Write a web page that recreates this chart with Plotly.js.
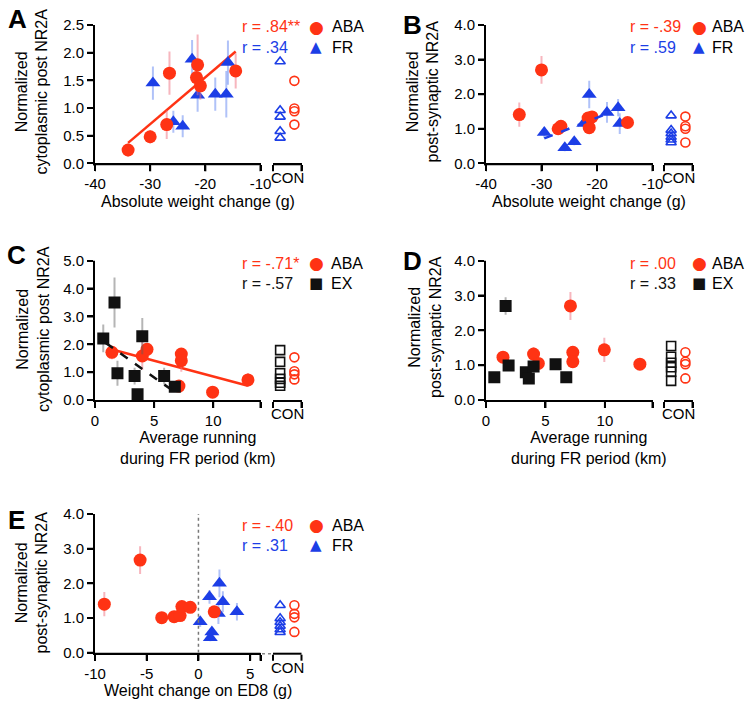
<!DOCTYPE html>
<html><head><meta charset="utf-8">
<script src="https://cdn.plot.ly/plotly-3.0.1.min.js"></script>
<style>html,body{margin:0;padding:0;background:#fff}#chart{width:750px;height:704px}</style>
</head><body><div id="chart"></div>
<script>
// ---------- DATA ----------
// Panels A & B: absolute weight change (g)
const abaWeightChange = [-34, -30, -27, -26.5, -21.6, -21.4, -20.9, -14.5];
const frWeightChange  = [-29.5, -25.8, -24.1, -22.4, -21.4, -18.2, -16.2, -15.9];
// A: cytoplasmic post NR2A
const abaCytoA     = [0.24, 0.48, 0.70, 1.63, 1.55, 1.78, 1.40, 1.67];
const abaCytoA_err = [0.12, 0.12, 0.26, 0.39, 0.25, 0.55, 0.25, 0.32];
const frCytoA      = [1.45, 0.75, 0.67, 1.88, 1.23, 1.25, 1.25, 1.82];
const frCytoA_err  = [0.30, 0.20, 0.20, 0.35, 0.30, 0.30, 0.42, 0.40];
const conA_FR  = [1.84, 0.96, 0.84, 0.58, 0.46];
const conA_ABA = [1.49, 0.99, 0.94, 0.70];
const fitA_x = [-34, -14.5];
const fitA_y = [0.37, 2.02];
// B: post-synaptic NR2A
const abaPostB     = [1.41, 2.70, 1.00, 1.07, 1.31, 1.03, 1.34, 1.18];
const abaPostB_err = [0.35, 0.40, 0.10, 0.18, 0.15, 0.10, 0.15, 0.10];
const frPostB      = [0.89, 0.45, 0.62, 1.15, 1.99, 1.47, 1.61, 1.15];
const frPostB_err  = [0.15, 0.10, 0.10, 0.10, 0.40, 0.30, 0.25, 0.30];
const conB_FR  = [1.38, 0.96, 0.86, 0.76, 0.68, 0.60];
const conB_ABA = [1.35, 1.07, 1.00, 0.60];
const fitB_x = [-29.5, -18.9];
const fitB_y = [0.72, 1.39];
// Panels C & D: average running during FR period (km)
const abaRun = [1.43, 4.0, 4.4, 7.1, 7.3, 7.3, 9.95, 12.94];
const exRun  = [0.7, 1.65, 1.9, 3.35, 3.6, 4.0, 5.85, 6.75];
// C: cytoplasmic post NR2A
const abaCytoC     = [1.71, 1.58, 1.82, 0.50, 1.65, 1.41, 0.28, 0.72];
const abaCytoC_err = [0.25, 0.50, 0.15, 0.10, 0.20, 0.40, 0.10, 0.25];
const exCytoC      = [2.21, 3.50, 0.96, 0.86, 0.21, 2.29, 0.86, 0.48];
const exCytoC_err  = [0.50, 0.90, 0.45, 0.30, 0.10, 0.65, 0.30, 0.10];
const conC_EX  = [1.79, 1.37, 0.96, 0.76, 0.62, 0.51];
const conC_ABA = [1.53, 1.03, 0.92, 0.74];
const fitC_aba_x = [1.13, 12.94], fitC_aba_y = [1.85, 0.51];
const fitC_ex_x  = [0.9, 6.6],    fitC_ex_y  = [2.05, 0.33];
// D: post-synaptic NR2A
const abaPostD     = [1.23, 1.32, 1.05, 2.70, 1.37, 1.10, 1.44, 1.03];
const abaPostD_err = [0.15, 0.20, 0.10, 0.40, 0.15, 0.15, 0.35, 0.10];
const exPostD      = [0.65, 2.70, 0.99, 0.80, 0.62, 0.96, 1.03, 0.65];
const exPostD_err  = [0.05, 0.25, 0.10, 0.10, 0.10, 0.10, 0.10, 0.10];
const conD_EX  = [1.55, 1.24, 1.07, 0.94, 0.81, 0.55];
const conD_ABA = [1.37, 1.10, 1.03, 0.62];
// E: weight change on ED8 (g)
const abaWtED8     = [-9.1, -5.64, -3.55, -2.35, -1.77, -1.6, -0.79, 1.53];
const abaPostE     = [1.40, 2.67, 1.01, 1.04, 1.07, 1.33, 1.31, 1.18];
const abaPostE_err = [0.35, 0.40, 0.08, 0.10, 0.15, 0.12, 0.12, 0.10];
const frWtED8      = [0.17, 1.07, 1.15, 1.3, 1.93, 2.03, 2.36, 3.72];
const frPostE      = [0.89, 1.61, 0.43, 0.60, 1.13, 2.00, 1.47, 1.18];
const frPostE_err  = [0.15, 0.20, 0.10, 0.10, 0.30, 0.40, 0.30, 0.25];
const conE_FR  = [1.37, 0.99, 0.88, 0.77, 0.67, 0.59];
const conE_ABA = [1.37, 1.12, 1.02, 0.60];
// tick labels
const ticksWeight = [-40, -30, -20, -10], ticksWeightText = ['-40', '-30', '-20', '-10'];
const ticksRun = [0, 5, 10, 14], ticksRunText = ['0', '5', '10', ''];
const ticksED8 = [-10, -5, 0, 5, 6], ticksED8Text = ['-10', '-5', '0', '5', ''];
const conLabel = 'CON';

// ---------- STYLE ----------
const F = 'Liberation Sans, Arial, Helvetica, sans-serif';
const RED = '#ff3314', BLUE = '#1c3ee6', BLACK = '#111111';
const RED_ERR = 'rgba(240,110,125,0.5)', BLUE_ERR = 'rgba(80,120,240,0.45)', BLACK_ERR = 'rgba(90,90,90,0.45)';
const W = 750, H = 704;
const px = v => v / W, py = v => 1 - v / H;
const tf = () => ({family: F, size: 15, color: '#000'});

function yAx(top, bot, range, dtick, anchor) {
  return {domain: [py(bot), py(top)], range, dtick, tick0: 0, tickformat: '.1f', anchor,
    showline: true, linewidth: 2, linecolor: '#000', ticks: 'outside', ticklen: 6, tickwidth: 2,
    tickcolor: '#000', showgrid: false, zeroline: false, tickfont: tf()};
}
function xMain(l, r, range, tv, tt, anchor) {
  return {domain: [px(l), px(r)], range, tickmode: 'array', tickvals: tv, ticktext: tt, anchor,
    showline: true, linewidth: 2, linecolor: '#000', ticks: 'outside', ticklen: 6, tickwidth: 2,
    tickcolor: '#000', showgrid: false, zeroline: false, tickfont: tf()};
}
function xCon(l, r, anchor) {
  return {domain: [px(l), px(r)], range: [-0.5, 1.5], tickmode: 'array', tickvals: [-0.5, 1.5], ticktext: ['', ''], anchor,
    showline: true, linewidth: 2, linecolor: '#000', ticks: 'outside', ticklen: 6, tickwidth: 2,
    tickcolor: '#000', showgrid: false, zeroline: false, tickfont: tf()};
}
function pts(x, y, err, xa, ya, color, symbol, errColor, size) {
  return {type: 'scatter', mode: 'markers', x, y, xaxis: xa, yaxis: ya, showlegend: false,
    marker: {color, symbol, size, line: {width: 0}},
    error_y: {type: 'data', array: err, visible: true, color: errColor, thickness: 2, width: 0}};
}
function con(y, idx, xa, ya, color, symbol) {
  return {type: 'scatter', mode: 'markers', x: y.map(() => idx), y, xaxis: xa, yaxis: ya, showlegend: false,
    marker: {color: color, symbol, size: 9, line: {width: 1.6, color}}};
}
function fit(x, y, xa, ya, color, dash) {
  return {type: 'scatter', mode: 'lines', x, y, xaxis: xa, yaxis: ya, showlegend: false,
    line: {color, width: 2.5, dash}};
}

const traces = [
  // A
  fit(fitA_x, fitA_y, 'x', 'y', RED, 'solid'),
  pts(frWeightChange, frCytoA, frCytoA_err, 'x', 'y', BLUE, 'triangle-up', BLUE_ERR, 13),
  pts(abaWeightChange, abaCytoA, abaCytoA_err, 'x', 'y', RED, 'circle', RED_ERR, 13),
  con(conA_FR, 0, 'x2', 'y', BLUE, 'triangle-up-open'),
  con(conA_ABA, 1, 'x2', 'y', RED, 'circle-open'),
  // B
  pts(frWeightChange, frPostB, frPostB_err, 'x3', 'y2', BLUE, 'triangle-up', BLUE_ERR, 13),
  pts(abaWeightChange, abaPostB, abaPostB_err, 'x3', 'y2', RED, 'circle', RED_ERR, 13),
  fit(fitB_x, fitB_y, 'x3', 'y2', BLUE, 'dash'),
  con(conB_FR, 0, 'x4', 'y2', BLUE, 'triangle-up-open'),
  con(conB_ABA, 1, 'x4', 'y2', RED, 'circle-open'),
  // C
  fit(fitC_aba_x, fitC_aba_y, 'x5', 'y3', RED, 'solid'),
  pts(abaRun, abaCytoC, abaCytoC_err, 'x5', 'y3', RED, 'circle', RED_ERR, 13),
  pts(exRun, exCytoC, exCytoC_err, 'x5', 'y3', BLACK, 'square', BLACK_ERR, 12),
  fit(fitC_ex_x, fitC_ex_y, 'x5', 'y3', BLACK, 'dash'),
  con(conC_EX, 0, 'x6', 'y3', BLACK, 'square-open'),
  con(conC_ABA, 1, 'x6', 'y3', RED, 'circle-open'),
  // D
  pts(abaRun, abaPostD, abaPostD_err, 'x7', 'y4', RED, 'circle', RED_ERR, 13),
  pts(exRun, exPostD, exPostD_err, 'x7', 'y4', BLACK, 'square', BLACK_ERR, 12),
  con(conD_EX, 0, 'x8', 'y4', BLACK, 'square-open'),
  con(conD_ABA, 1, 'x8', 'y4', RED, 'circle-open'),
  // E (CON column shares the x scale of panel A's CON column: same horizontal slot)
  pts(frWtED8, frPostE, frPostE_err, 'x9', 'y5', BLUE, 'triangle-up', BLUE_ERR, 13),
  pts(abaWtED8, abaPostE, abaPostE_err, 'x9', 'y5', RED, 'circle', RED_ERR, 13),
  con(conE_FR, 0, 'x2', 'y5', BLUE, 'triangle-up-open'),
  con(conE_ABA, 1, 'x2', 'y5', RED, 'circle-open'),
];

// layout geometry (pixels)
const LM = [95, 260.5], LC = [273, 301.5], RM = [486, 652.5], RC = [664, 692.5];

const ann = [];
function txt(x, y, text, opts) {
  ann.push(Object.assign({xref: 'paper', yref: 'paper', x: px(x), y: py(y), text, showarrow: false,
    xanchor: 'center', yanchor: 'middle', font: {family: F, size: 16, color: '#000'}}, opts || {}));
}
// panel letters
[['A', 17, 19], ['B', 412, 25], ['C', 16, 255], ['D', 412, 261], ['E', 16, 520]].forEach(([t, x, y]) =>
  txt(x, y, '<b>' + t + '</b>', {font: {family: F, size: 26, color: '#000'}}));
// CON labels
[[LC, 177.5], [RC, 177.5], [LC, 414], [RC, 414], [LC, 667]].forEach(([c, y]) =>
  txt((c[0] + c[1]) / 2, y, conLabel, {font: tf()}));
// y titles
txt(31.5, 92, 'Normalized<br>cytoplasmic post NR2A', {textangle: -90});
txt(422.5, 92, 'Normalized<br>post-synaptic NR2A', {textangle: -90});
txt(33, 329, 'Normalized<br>cytoplasmic post NR2A', {textangle: -90});
txt(425, 327, 'Normalized<br>post-synaptic NR2A', {textangle: -90});
txt(31.5, 583, 'Normalized<br>post-synaptic NR2A', {textangle: -90});
// x titles
txt(198, 201, 'Absolute weight change (g)');
txt(589, 201, 'Absolute weight change (g)');
txt(198, 447.5, 'Average running<br>during FR period (km)');
txt(589, 447.5, 'Average running<br>during FR period (km)');
txt(198, 690, 'Weight change on ED8 (g)');
// legends
function legend(xr, xm, xl, y1, y2, r1, r2, c2, g2, sym2) {
  txt(xr, y1, r1, {xanchor: 'left', font: {family: F, size: 16, color: RED}});
  txt(xm, y1, '●', {font: {family: 'DejaVu Sans', size: 17, color: RED}});
  txt(xl, y1, 'ABA', {xanchor: 'left'});
  txt(xr, y2, r2, {xanchor: 'left', font: {family: F, size: 16, color: c2}});
  txt(xm, y2, sym2, {font: {family: 'DejaVu Sans', size: 15, color: c2}});
  txt(xl, y2, g2, {xanchor: 'left'});
}
legend(240, 316, 330, 27, 47, 'r = .84**', 'r = .34', BLUE, 'FR', '▲');
legend(628, 699, 710, 27, 47, 'r = -.39', 'r = .59', BLUE, 'FR', '▲');
legend(240, 316, 329, 263, 283, 'r = -.71*', 'r = -.57', BLACK, 'EX', '■');
legend(628, 699, 710, 263, 283, 'r = .00', 'r = .33', BLACK, 'EX', '■');
legend(240, 316, 330, 525, 545, 'r = -.40', 'r = .31', BLUE, 'FR', '▲');

// Axis frame drawn explicitly as well (Prism-style broken axes)
const shapes = [];
const LN = {color: '#000', width: 2};
function seg(x0, y0, x1, y1, xref, yref, line) {
  shapes.push({type: 'line', xref: xref || 'paper', yref: yref || 'paper', x0, y0, x1, y1, line: line || LN});
}
const panels = [
  {xm: 'x',  y: 'y',  main: LM, con: LC, top: 25,    base: 163.3, xt: ticksWeight, yr: [0, 2.5], dy: 0.5},
  {xm: 'x3', y: 'y2', main: RM, con: RC, top: 25,    base: 163.3, xt: ticksWeight, yr: [0, 4],   dy: 1},
  {xm: 'x5', y: 'y3', main: LM, con: LC, top: 260.7, base: 400,   xt: ticksRun,    yr: [0, 5],   dy: 1},
  {xm: 'x7', y: 'y4', main: RM, con: RC, top: 260.7, base: 400,   xt: ticksRun,    yr: [0, 4],   dy: 1},
  {xm: 'x9', y: 'y5', main: LM, con: LC, top: 514,   base: 652.7, xt: ticksED8,    yr: [0, 4],   dy: 1},
];
panels.forEach(p => {
  const yl = p.base + 1;
  seg(px(p.main[0] - 2), py(yl), px(p.main[1]), py(yl));            // main x line
  seg(px(p.con[0]), py(yl), px(p.con[1]), py(yl));                  // CON x line
  seg(px(p.main[0] - 1), py(p.base + 2), px(p.main[0] - 1), py(p.top)); // y line
  p.xt.forEach(v => seg(v, py(p.base + 2), v, py(p.base + 8), p.xm, 'paper'));
  [p.con[0], p.con[1]].forEach(v => seg(px(v), py(p.base + 2), px(v), py(p.base + 8)));
  const n = Math.round((p.yr[1] - p.yr[0]) / p.dy);
  for (let i = 0; i <= n; i++) {
    const v = p.yr[0] + i * p.dy;
    seg(px(p.main[0] - 2), v, px(p.main[0] - 8), v, 'paper', p.y);
  }
});
// E: zero reference line and dotted axis break
seg(0, 0, 0, 4, 'x9', 'y5', {color: '#777', width: 1.5, dash: 'dot'});
seg(px(262), py(653.7), px(272), py(653.7), 'paper', 'paper', {color: '#888', width: 1.5, dash: 'dot'});

const layout = {
  width: W, height: H, margin: {l: 0, r: 0, t: 0, b: 0}, showlegend: false,
  yaxis:  yAx(25, 163.3, [0, 2.5], 0.5, 'x'),
  xaxis:  xMain(LM[0], LM[1], [-40, -10], ticksWeight, ticksWeightText, 'y'),
  xaxis2: xCon(LC[0], LC[1], 'y'),
  yaxis2: yAx(25, 163.3, [0, 4], 1, 'x3'),
  xaxis3: xMain(RM[0], RM[1], [-40, -10], ticksWeight, ticksWeightText, 'y2'),
  xaxis4: xCon(RC[0], RC[1], 'y2'),
  yaxis3: yAx(260.7, 400, [0, 5], 1, 'x5'),
  xaxis5: xMain(LM[0], LM[1], [0, 14], ticksRun, ticksRunText, 'y3'),
  xaxis6: xCon(LC[0], LC[1], 'y3'),
  yaxis4: yAx(260.7, 400, [0, 4], 1, 'x7'),
  xaxis7: xMain(RM[0], RM[1], [0, 14], ticksRun, ticksRunText, 'y4'),
  xaxis8: xCon(RC[0], RC[1], 'y4'),
  yaxis5: yAx(514, 652.7, [0, 4], 1, 'x9'),
  xaxis9: xMain(LM[0], LM[1], [-10, 6], ticksED8, ticksED8Text, 'y5'),
  annotations: ann,
  shapes: shapes
};
Plotly.newPlot('chart', traces, layout, {staticPlot: true, displayModeBar: false});
</script></body></html>
